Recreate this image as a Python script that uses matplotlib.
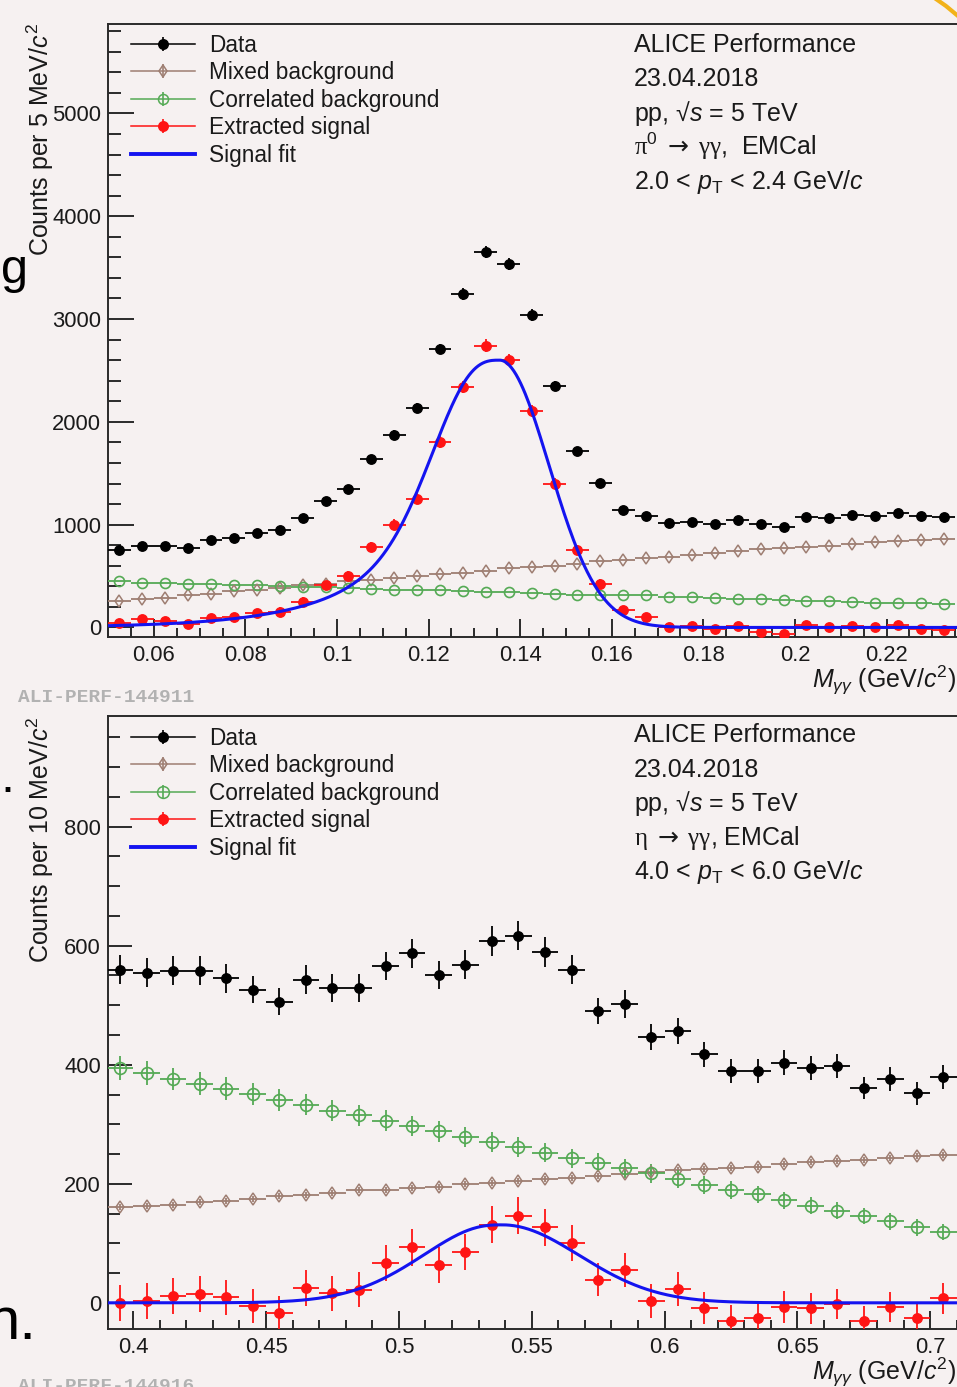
import numpy as np
import matplotlib
matplotlib.use("Agg")
import matplotlib.pyplot as plt
from matplotlib.lines import Line2D
from matplotlib.ticker import MultipleLocator, FuncFormatter
from matplotlib.legend_handler import HandlerTuple

plt.rcParams['font.family'] = ['Liberation Sans', 'DejaVu Sans']
plt.rcParams['mathtext.fontset'] = 'custom'
plt.rcParams['mathtext.rm'] = 'Liberation Sans'
plt.rcParams['mathtext.it'] = 'Liberation Sans:italic'
plt.rcParams['mathtext.bf'] = 'Liberation Sans:bold'
plt.rcParams['mathtext.sf'] = 'Liberation Serif'
plt.rcParams['mathtext.tt'] = 'DejaVu Sans'

# ---------------------------------------------------------------- pi0 panel data
pi0_mass = [0.0525, 0.0575, 0.0625, 0.0675, 0.0725, 0.0775, 0.0825, 0.0875, 0.0925,
            0.0975, 0.1025, 0.1075, 0.1125, 0.1175, 0.1225, 0.1275, 0.1325, 0.1375,
            0.1425, 0.1475, 0.1525, 0.1575, 0.1625, 0.1675, 0.1725, 0.1775, 0.1825,
            0.1875, 0.1925, 0.1975, 0.2025, 0.2075, 0.2125, 0.2175, 0.2225, 0.2275, 0.2325]
pi0_half_bin = 0.0025
pi0_data = [750, 796, 796, 777, 854, 874, 922, 951, 1068, 1233, 1350, 1641, 1874, 2136,
            2709, 3243, 3650, 3534, 3039, 2350, 1718, 1408, 1146, 1087, 1019, 1029, 1010,
            1048, 1010, 981, 1078, 1068, 1097, 1087, 1116, 1087, 1078]
pi0_data_err = [27, 28, 28, 28, 29, 30, 30, 31, 33, 35, 37, 41, 43, 46, 52, 57, 60, 59, 55,
                48, 41, 38, 34, 33, 32, 32, 32, 32, 32, 31, 33, 33, 33, 33, 33, 33, 33]
pi0_mixed = [262, 272, 291, 311, 330, 350, 369, 388, 408, 427, 447, 466, 485, 505, 524, 534,
             553, 583, 592, 602, 621, 650, 660, 680, 689, 709, 728, 748, 767, 777, 786, 796,
             816, 835, 845, 854, 864]
pi0_corr = [447, 437, 437, 427, 420, 415, 408, 400, 397, 390, 380, 375, 369, 365, 360, 350,
            347, 340, 335, 330, 320, 317, 315, 311, 300, 295, 285, 280, 272, 270, 262, 255,
            245, 240, 233, 233, 225]
pi0_signal = [39, 78, 58, 29, 87, 97, 136, 155, 252, 408, 505, 786, 1000, 1252, 1806, 2340,
              2738, 2602, 2107, 1398, 757, 427, 165, 97, 0, 10, -19, 10, -49, -68, 19, 0, 10,
              0, 19, -19, -29]
pi0_signal_err = [38, 39, 39, 39, 40, 40, 41, 41, 42, 44, 46, 48, 50, 52, 56, 60, 63, 62, 58,
                  52, 46, 43, 40, 40, 39, 39, 39, 39, 39, 39, 40, 40, 40, 40, 40, 40, 40]
# signal fit parameters (Gaussian with low-mass exponential tail)
pi0_fit_amp, pi0_fit_mean, pi0_fit_sigma, pi0_fit_lambda = 2600.0, 0.1355, 0.0108, 0.017

# ---------------------------------------------------------------- eta panel data
eta_mass = [0.395, 0.405, 0.415, 0.425, 0.435, 0.445, 0.455, 0.465, 0.475, 0.485, 0.495,
            0.505, 0.515, 0.525, 0.535, 0.545, 0.555, 0.565, 0.575, 0.585, 0.595, 0.605,
            0.615, 0.625, 0.635, 0.645, 0.655, 0.665, 0.675, 0.685, 0.695, 0.705]
eta_half_bin = 0.005
eta_data = [560, 555, 558, 558, 545, 526, 506, 543, 529, 529, 566, 587, 551, 568, 608, 617,
            590, 560, 491, 502, 447, 457, 418, 390, 390, 403, 394, 398, 361, 376, 352, 379]
eta_data_err = [24, 24, 24, 24, 24, 23, 23, 24, 23, 23, 24, 25, 24, 24, 25, 25, 25, 24, 22,
                23, 22, 22, 21, 20, 20, 21, 20, 20, 19, 20, 19, 20]
eta_mixed = [161, 162, 165, 170, 171, 175, 179, 181, 185, 189, 189, 193, 195, 199, 202, 204,
             208, 210, 213, 216, 219, 224, 225, 227, 229, 234, 236, 239, 240, 243, 246, 248]
eta_mixed_err = [5, 5, 5, 5, 5, 5, 5, 5, 5, 5, 5, 5, 5, 5, 5, 5, 5, 5, 5, 5, 5, 5, 5, 5, 5,
                 5, 5, 5, 5, 5, 5, 5]
eta_corr = [394, 386, 376, 368, 360, 351, 341, 333, 323, 315, 306, 297, 288, 279, 270, 262,
            252, 243, 235, 226, 218, 208, 198, 190, 182, 172, 163, 155, 146, 137, 127, 119]
eta_corr_err = [20, 20, 19, 19, 19, 19, 18, 18, 18, 18, 18, 17, 17, 17, 17, 17, 16, 16, 16,
                16, 16, 15, 15, 15, 15, 15, 14, 14, 14, 14, 14, 14]
eta_signal = [0, 3, 11, 15, 9, -5, -17, 25, 16, 22, 67, 93, 64, 85, 131, 146, 127, 101, 39,
              55, 3, 23, -9, -30, -25, -7, -9, -2, -30, -7, -26, 8]
eta_signal_err = [30, 30, 30, 30, 30, 29, 29, 30, 29, 29, 30, 31, 30, 30, 31, 31, 31, 30, 28,
                  29, 28, 28, 27, 26, 26, 27, 26, 26, 25, 26, 25, 26]
eta_fit_amp, eta_fit_mean, eta_fit_sigma, eta_fit_lambda = 131.0, 0.539, 0.029, 0.010

legend_labels = ["Data", "Mixed background", "Correlated background",
                 "Extracted signal", "Signal fit"]
pi0_text = ["ALICE Performance", "23.04.2018", "pp, \u221a$s$ = 5 TeV",
            r"$\mathsf{\pi}^{0}\;\mathtt{\rightarrow}\;\mathsf{\gamma\gamma}$,  EMCal",
            r"2.0 < $p_{\mathrm{T}}$ < 2.4 GeV/$c$"]
eta_text = ["ALICE Performance", "23.04.2018", "pp, \u221a$s$ = 5 TeV",
            r"$\mathsf{\eta}\;\mathtt{\rightarrow}\;\mathsf{\gamma\gamma}$, EMCal",
            r"4.0 < $p_{\mathrm{T}}$ < 6.0 GeV/$c$"]

# ---------------------------------------------------------------- style
W, H = 957, 1387
BG = '#f6f1f1'
C_DATA = 'black'
C_MIX = '#9e7e72'
C_CORR = '#55aa55'
C_SIG = '#ff1414'
C_FIT = '#1414f0'
C_AX = '#2a2a2a'
C_TXT = '#1a1a1a'


def fx(px):
    return px / W


def fy(py):
    return 1 - py / H


def signal_fit(x, amp, mean, sigma, lam):
    g = np.exp(-0.5 * ((x - mean) / sigma) ** 2)
    tail = np.where(x < mean, np.exp((x - mean) / lam) * (1 - g), 0.0)
    return amp * (g + tail)


fig = plt.figure(figsize=(W / 100, H / 100), dpi=100, facecolor=BG)


def style_axes(ax, xmaj, xmin, ymaj, ymin, xlab_max):
    ax.set_facecolor('none')
    for s in ax.spines.values():
        s.set_color(C_AX)
        s.set_linewidth(1.4)
    ax.xaxis.set_major_locator(MultipleLocator(xmaj))
    ax.xaxis.set_minor_locator(MultipleLocator(xmin))
    ax.yaxis.set_major_locator(MultipleLocator(ymaj))
    ax.yaxis.set_minor_locator(MultipleLocator(ymin))
    ax.xaxis.set_major_formatter(
        FuncFormatter(lambda v, p: ('%g' % round(v, 4)) if v < xlab_max else ''))
    ax.yaxis.set_major_formatter(FuncFormatter(lambda v, p: '%d' % round(v)))
    ax.tick_params(which='both', direction='in', top=False, right=False,
                   colors=C_AX, width=1.4, labelcolor=C_TXT, labelsize=15.8)
    ax.tick_params(axis='x', which='major', length=13, pad=6)
    ax.tick_params(axis='x', which='minor', length=6.5)


def draw_panel(ax, x, half, data, data_err, mixed, mixed_err, corr, corr_err,
               sig, sig_err, fitpars, ms_corr):
    eb = dict(capsize=0, ls='none', elinewidth=1.3)
    ax.errorbar(x, mixed, xerr=half, yerr=mixed_err, fmt='d', color=C_MIX, mfc='none',
                mec=C_MIX, ms=6.5, mew=1.1, zorder=3, **eb)
    ax.errorbar(x, corr, xerr=half, yerr=corr_err, fmt='o', color=C_CORR, mfc='none',
                mec=C_CORR, ms=ms_corr, mew=1.2, zorder=3, **eb)
    ax.errorbar(x, sig, xerr=half, yerr=sig_err, fmt='o', color=C_SIG, mfc=C_SIG,
                mec=C_SIG, ms=6.8, zorder=4, **eb)
    xs = np.linspace(ax.get_xlim()[0], ax.get_xlim()[1], 800)
    ax.plot(xs, signal_fit(xs, *fitpars), color=C_FIT, lw=2.2, zorder=5)
    ax.errorbar(x, data, xerr=half, yerr=data_err, fmt='o', color=C_DATA, mfc=C_DATA,
                mec=C_DATA, ms=6.8, zorder=6, **eb)


def add_legend(ax, top_px, ms_corr):
    specs = [(C_DATA, 'o', C_DATA, 6.8), (C_MIX, 'd', 'none', 6.5),
             (C_CORR, 'o', 'none', ms_corr), (C_SIG, 'o', C_SIG, 6.8)]
    handles = []
    for col, mk, mfc, ms in specs:
        line = Line2D([], [], color=col, lw=1.1)
        bar = Line2D([], [], color=col, marker='|', ms=10, mew=1.2, ls='none')
        dot = Line2D([], [], color=col, marker=mk, mfc=mfc, mec=col, ms=ms, mew=1.1,
                     ls='none')
        handles.append((line, bar, dot))
    handles.append(Line2D([], [], color=C_FIT, lw=2.8))
    leg = ax.legend(handles, legend_labels,
                    handler_map={tuple: HandlerTuple(ndivide=1, pad=0)},
                    loc='upper left', bbox_to_anchor=(fx(131), fy(top_px)),
                    bbox_transform=fig.transFigure, frameon=False, fontsize=16.3,
                    handlelength=2.82, handletextpad=0.62, labelspacing=0.2,
                    borderpad=0, borderaxespad=0)
    for t in leg.get_texts():
        t.set_color(C_TXT)


# ---------------------------------------------------------------- top panel (pi0)
ax1 = fig.add_axes([fx(108), fy(637), 916 / W, 613 / H])
ax1.set_xlim(0.05, 0.25)
ax1.set_ylim(-93, 5870)
style_axes(ax1, 0.02, 0.005, 1000, 200, 0.235)
ax1.tick_params(axis='y', which='major', length=18.7, pad=5)
ax1.tick_params(axis='y', which='minor', length=9.4)
draw_panel(ax1, pi0_mass, pi0_half_bin, pi0_data, pi0_data_err, pi0_mixed, None,
           pi0_corr, None, pi0_signal, pi0_signal_err,
           (pi0_fit_amp, pi0_fit_mean, pi0_fit_sigma, pi0_fit_lambda), 7.2)
add_legend(ax1, 33.5, 7.2)

# ---------------------------------------------------------------- bottom panel (eta)
ax2 = fig.add_axes([fx(108), fy(1329), 955 / W, 613 / H])
ax2.set_xlim(0.3905, 0.75)
ax2.set_ylim(-44, 986)
style_axes(ax2, 0.05, 0.01, 200, 50, 0.72)
ax2.tick_params(axis='y', which='major', length=17.3, pad=5)
ax2.tick_params(axis='y', which='minor', length=8.6)
draw_panel(ax2, eta_mass, eta_half_bin, eta_data, eta_data_err, eta_mixed, eta_mixed_err,
           eta_corr, eta_corr_err, eta_signal, eta_signal_err,
           (eta_fit_amp, eta_fit_mean, eta_fit_sigma, eta_fit_lambda), 8.5)
add_legend(ax2, 726.5, 8.5)

# ---------------------------------------------------------------- texts
for t, base in zip(pi0_text, [51.7, 86.5, 120.5, 155, 189]):
    fig.text(fx(634), fy(base), t, fontsize=18, color=C_TXT, va='baseline', ha='left')
for t, base in zip(eta_text, [741.7, 776.5, 810.5, 845.5, 879.3]):
    fig.text(fx(634), fy(base), t, fontsize=18, color=C_TXT, va='baseline', ha='left')

fig.text(fx(49), fy(23), r"Counts per 5 MeV/$c^{2}$", rotation=90, rotation_mode='anchor',
         ha='right', va='baseline', fontsize=18, color=C_TXT)
fig.text(fx(49), fy(716), r"Counts per 10 MeV/$c^{2}$", rotation=90, rotation_mode='anchor',
         ha='right', va='baseline', fontsize=18, color=C_TXT)
fig.text(fx(956), fy(688), r"$M_{\gamma\gamma}$ (GeV/$c^{2}$)", ha='right', va='baseline',
         fontsize=18, color=C_TXT)
fig.text(fx(956), fy(1380), r"$M_{\gamma\gamma}$ (GeV/$c^{2}$)", ha='right', va='baseline',
         fontsize=18, color=C_TXT)

fig.text(fx(18), fy(702), "ALI-PERF-144911", family='Liberation Mono', weight='bold',
         color='#b2b2b2', fontsize=14, va='baseline')
fig.text(fx(18), fy(1391), "ALI-PERF-144916", family='Liberation Mono', weight='bold',
         color='#b2b2b2', fontsize=14, va='baseline')

# cut-off slide text fragments at the left edge
fig.text(fx(1), fy(283), "g", fontsize=35, color='black', ha='left', va='baseline')
fig.text(fx(7), fy(792), ".", fontsize=36, color='black', ha='center', va='baseline')
fig.text(fx(-14), fy(1339), "n.", fontsize=43, color='black', ha='left', va='baseline')
# orange arc fragment in the upper right corner
fig.add_artist(Line2D([fx(936), fx(946), fx(958)], [fy(-1), fy(6), fy(16)],
                      transform=fig.transFigure, color='#f2b21a', lw=3))

fig.savefig("out.png", dpi=100, facecolor=BG)
